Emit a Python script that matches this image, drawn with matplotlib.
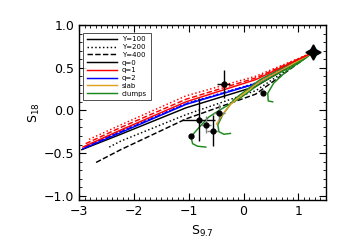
import numpy as np
import matplotlib
matplotlib.use("Agg")
import matplotlib.pyplot as plt
from matplotlib.ticker import MultipleLocator

# end point shared by all model tracks (big star)
star = (1.27, 0.68)

# model tracks: points (x, y) before reaching the star
q1_Y100 = [(-2.93, -0.43), (-2.24, -0.23), (-1.05, 0.10), (0.22, 0.36)]
q1_Y400 = [(-2.88, -0.39), (-2.24, -0.20), (-1.05, 0.13), (0.22, 0.38)]
q1_Y200 = [(-2.82, -0.34), (-2.24, -0.17), (-1.05, 0.17), (0.22, 0.40)]
q2_Y100 = [(-2.93, -0.45), (-2.24, -0.26), (-1.05, 0.07), (0.22, 0.31)]
q2_Y200 = [(-2.85, -0.41), (-2.24, -0.24), (-1.05, 0.08), (0.22, 0.32)]
q2_Y400 = [(-2.90, -0.43), (-2.24, -0.25), (-1.05, 0.075), (0.22, 0.315)]
q0_Y100 = [(-2.95, -0.46), (-2.24, -0.28), (-1.05, 0.03), (0.22, 0.28)]
q0_Y200 = [(-2.45, -0.43), (-2.24, -0.36), (-1.05, -0.05), (0.22, 0.23)]
q0_Y400 = [(-2.69, -0.61), (-2.24, -0.46), (-1.05, -0.10), (0.22, 0.19)]

# slab / clump tracks (from far end towards the star)
slab = [(-0.49, -0.16), (-0.42, -0.08), (-0.24, 0.07), (-0.11, 0.14),
        (0.30, 0.34), (0.80, 0.51)]
clump_a = [(-0.69, -0.43), (-0.84, -0.42), (-0.93, -0.39), (-0.96, -0.31),
           (-0.84, -0.22), (-0.64, -0.08), (-0.42, 0.01), (-0.05, 0.15),
           (0.31, 0.32), (0.80, 0.49), (1.16, 0.63)]
clump_b = [(-0.24, -0.27), (-0.36, -0.28), (-0.45, -0.25), (-0.47, -0.17),
           (-0.38, -0.05), (-0.18, 0.125), (0.30, 0.36), (0.80, 0.53),
           (1.16, 0.645)]
clump_c = [(0.53, 0.10), (0.45, 0.11), (0.44, 0.20), (0.55, 0.32),
           (0.80, 0.47), (1.04, 0.57)]

# observed sources
obs_x = [-0.36, -0.82, -0.69, -0.56, -0.45, -0.96, 0.35]
obs_y = [0.31, -0.11, -0.17, -0.24, -0.03, -0.30, 0.20]
obs_xerr = [0.12, 0.30, 0.09, 0.10, 0.11, 0.0, 0.0]
obs_yerr = [0.16, 0.25, 0.10, 0.18, 0.10, 0.0, 0.0]
obs_xcol = ['black', 'black', 'gray', 'gray', 'gray', None, None]
obs_ycol = ['black', 'black', 'gray', 'black', 'gray', None, None]

slab_col = '#e0a020'
clump_col = '#1a8a1a'


def track(pts):
    xs = [p[0] for p in pts] + [star[0]]
    ys = [p[1] for p in pts] + [star[1]]
    return xs, ys


fig = plt.figure(figsize=(3.5, 2.5), dpi=100)
ax = fig.add_axes([0.226, 0.2, 0.705, 0.7])

lw = 1.05
for pts, ls in [(q0_Y100, '-'), (q0_Y200, ':'), (q0_Y400, '--')]:
    ax.plot(*track(pts), color='black', ls=ls, lw=lw, zorder=2)
for pts, ls in [(q2_Y100, '-'), (q2_Y200, ':'), (q2_Y400, '--')]:
    ax.plot(*track(pts), color='blue', ls=ls, lw=lw, zorder=3)
for pts, ls in [(q1_Y100, '-'), (q1_Y200, ':'), (q1_Y400, '--')]:
    ax.plot(*track(pts), color='red', ls=ls, lw=lw, zorder=4)
for pts in [clump_a, clump_b, clump_c]:
    ax.plot(*track(pts), color=clump_col, lw=lw, zorder=3)
ax.plot(*track(slab), color=slab_col, lw=lw, zorder=3.5)

for i in range(len(obs_x)):
    if obs_xerr[i] > 0:
        ax.errorbar(obs_x[i], obs_y[i], xerr=obs_xerr[i], fmt='none',
                    ecolor=obs_xcol[i], elinewidth=1, capsize=0, zorder=5)
    if obs_yerr[i] > 0:
        ax.errorbar(obs_x[i], obs_y[i], yerr=obs_yerr[i], fmt='none',
                    ecolor=obs_ycol[i], elinewidth=1, capsize=0, zorder=5)
ax.plot(obs_x, obs_y, 'o', color='black', ms=3.5, zorder=6)
ax.plot(star[0], star[1], marker=(4, 1, 0), color='black', ms=11, zorder=7)

# legend
handles = [
    plt.Line2D([], [], color='black', ls='-', lw=lw),
    plt.Line2D([], [], color='black', ls=':', lw=lw),
    plt.Line2D([], [], color='black', ls='--', lw=lw),
    plt.Line2D([], [], color='black', lw=lw),
    plt.Line2D([], [], color='red', lw=lw),
    plt.Line2D([], [], color='blue', lw=lw),
    plt.Line2D([], [], color=slab_col, lw=lw),
    plt.Line2D([], [], color=clump_col, lw=lw),
]
labels = ['Y=100', 'Y=200', 'Y=400', 'q=0', 'q=1', 'q=2', 'slab', 'clumps']
leg = ax.legend(handles, labels, loc='upper left', fontsize=5, frameon=True,
                fancybox=False, edgecolor='black', handlelength=4.4,
                labelspacing=0.25, borderpad=0.5, handletextpad=0.7,
                borderaxespad=0, bbox_to_anchor=(0.016, 0.955))
leg.get_frame().set_linewidth(0.6)

ax.set_xlim(-3, 1.5)
ax.set_ylim(-1.05, 1.0)
ax.xaxis.set_major_locator(MultipleLocator(1))
ax.xaxis.set_minor_locator(MultipleLocator(0.1))
ax.yaxis.set_major_locator(MultipleLocator(0.5))
ax.yaxis.set_minor_locator(MultipleLocator(0.1))
ax.tick_params(which='both', direction='in', top=True, right=True, labelsize=9)
ax.tick_params(which='major', length=5, width=0.8)
ax.tick_params(which='minor', length=2.5, width=0.6)
for s in ax.spines.values():
    s.set_linewidth(1.0)

ax.set_xlabel(r'S$_{9.7}$', fontsize=9, labelpad=4)
ax.set_ylabel(r'S$_{18}$', fontsize=9, labelpad=1)

plt.savefig("out.png", dpi=100)
